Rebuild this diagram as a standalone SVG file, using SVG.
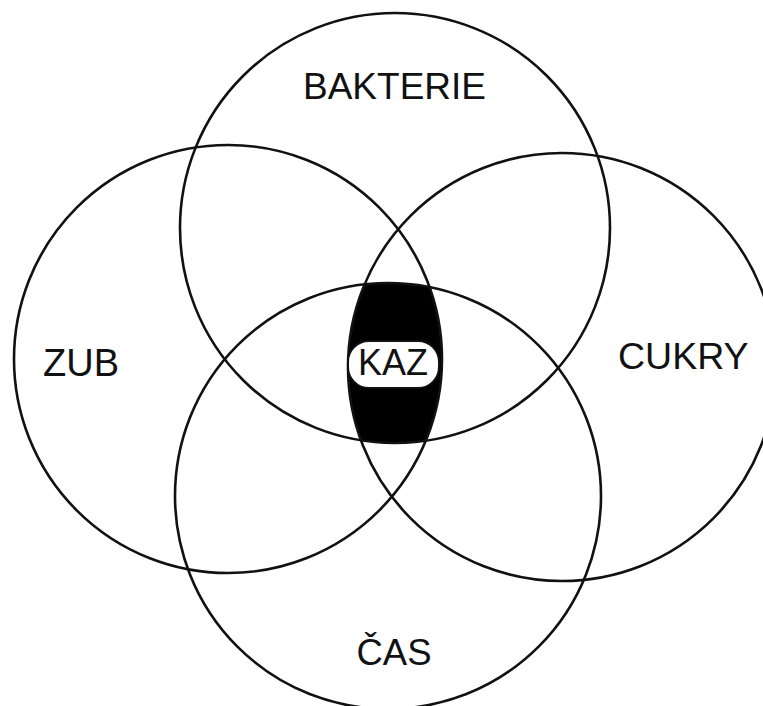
<svg xmlns="http://www.w3.org/2000/svg" width="763" height="706" viewBox="0 0 763 706">
<style>
.c{fill:none;stroke:#111;stroke-width:2.6}
.t{font-family:"Liberation Sans",Arial,sans-serif;fill:#111}
</style>
<defs>
<clipPath id="cT"><circle cx="395" cy="228" r="215"/></clipPath>
<clipPath id="cL"><circle cx="228" cy="359" r="214"/></clipPath>
<clipPath id="cR"><circle cx="562" cy="367" r="214"/></clipPath>
<clipPath id="cB"><circle cx="388" cy="496" r="213"/></clipPath>
</defs>
<rect width="763" height="706" fill="#fff"/>
<g id="kaz-fill">
<g clip-path="url(#cT)"><g clip-path="url(#cL)"><g clip-path="url(#cR)"><g clip-path="url(#cB)">
<rect x="300" y="250" width="180" height="220" fill="#000"/>
</g></g></g></g>
</g>
<g id="connectors"></g>
<g id="bakterie"><circle class="c" cx="395" cy="228" r="215"/><text class="t" x="394.5" y="99" font-size="37" text-anchor="middle">BAKTERIE</text></g>
<g id="zub"><circle class="c" cx="228" cy="359" r="214"/><text class="t" x="43" y="376" font-size="38">ZUB</text></g>
<g id="cukry"><circle class="c" cx="562" cy="367" r="214"/><text class="t" x="618" y="369" font-size="37.5">CUKRY</text></g>
<g id="cas"><circle class="c" cx="388" cy="496" r="213"/><text class="t" x="394" y="665" font-size="36.5" text-anchor="middle">ČAS</text></g>
<g id="kaz"><rect x="348" y="341" width="91" height="47" rx="21" fill="#fff" stroke="#111" stroke-width="2"/><text class="t" x="393" y="375" font-size="36" text-anchor="middle">KAZ</text></g>
</svg>
